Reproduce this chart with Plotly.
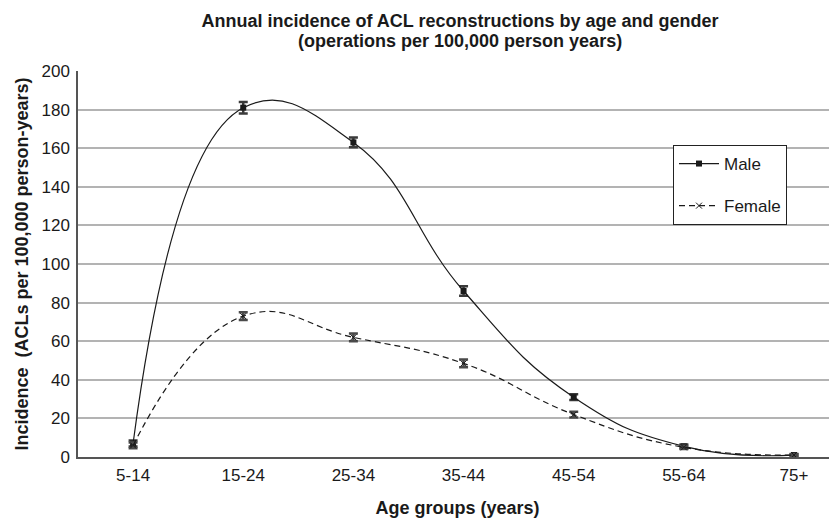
import plotly.graph_objects as go

age_groups = ["5-14", "15-24", "25-34", "35-44", "45-54", "55-64", "75+"]
male = [7, 181, 163, 86, 31, 5.5, 1]
male_err = [1.5, 3, 2.5, 2.5, 1.5, 1, 0.5]
female = [6, 73, 62, 48.5, 22, 5, 1]
female_err = [1.5, 2, 2, 2, 1.5, 0.8, 0.4]
y_ticks = [0, 20, 40, 60, 80, 100, 120, 140, 160, 180, 200]

FONT = "Liberation Sans, Arial, Helvetica, sans-serif"
INK = "#1a1a1a"

fig = go.Figure()
fig.add_trace(go.Scatter(
    x=age_groups, y=male, name="Male", mode="lines+markers",
    line=dict(color=INK, width=1.2, shape="spline", smoothing=1.3),
    marker=dict(symbol="square", size=6, color=INK),
    error_y=dict(type="data", array=male_err, visible=True, color="#3a3a3a", thickness=2.5, width=4.5),
    legendgroup="m",
))
fig.add_trace(go.Scatter(
    x=age_groups, y=female, name="Female", mode="lines+markers",
    line=dict(color=INK, width=1.2, dash="6px,4px", shape="spline", smoothing=1.3),
    marker=dict(symbol="x-thin", size=6, color=INK, line=dict(width=1, color=INK)),
    error_y=dict(type="data", array=female_err, visible=True, color="#4a4a4a", thickness=2.5, width=4.5),
    legendgroup="f",
))

# plot area in figure pixels: x 70..829, y 63..449
PL, PT, PW, PH = 70, 63, 759, 386

fig.update_layout(
    width=837, height=519,
    margin=dict(l=PL, r=8, t=PT, b=70, autoexpand=False),
    paper_bgcolor="white", plot_bgcolor="white",
    font=dict(family=FONT, size=17, color=INK),
    title=dict(
        text="<b>Annual incidence of ACL reconstructions by age and gender</b>",
        x=452 / 837, xanchor="center", xref="container",
        y=1 - 13 / 519, yanchor="middle", yref="container",
        font=dict(family=FONT, size=18, color=INK),
    ),
    annotations=[dict(
        text="<b>(operations per 100,000 person years)</b>",
        x=(452 - PL) / PW, xanchor="center", xref="paper",
        y=1 + (PT - 33) / PH, yanchor="middle", yref="paper",
        showarrow=False, font=dict(family=FONT, size=18, color=INK),
    )],
    showlegend=True,
    legend=dict(
        x=(665 - PL) / PW, xanchor="left", y=1 - (137 - PT) / PH, yanchor="top",
        bgcolor="white", bordercolor="#222", borderwidth=1,
        font=dict(family=FONT, size=17, color=INK),
        tracegroupgap=17, traceorder="grouped", itemwidth=40,
    ),
)

fig.update_xaxes(
    type="category", categoryorder="array", categoryarray=age_groups,
    range=[-0.5, 6.39], automargin=False,
    showline=True, linecolor="#555", linewidth=1.5,
    showgrid=False, ticks="", tickfont=dict(size=17), ticklabelstandoff=2,
    title=dict(text="<b>Age groups (years)</b>", standoff=17, font=dict(size=18)),
)
fig.update_yaxes(
    range=[0, 200], tickvals=y_ticks, automargin=False,
    showline=True, linecolor="#555", linewidth=1.5,
    showgrid=True, gridcolor="#b3b3b3", gridwidth=1.5,
    ticks="", tickfont=dict(size=17), zeroline=False, ticklabelstandoff=3,
    title=dict(text="<b>Incidence  (ACLs per 100,000 person-years)</b>", standoff=8, font=dict(size=18)),
)

fig.write_html("out.html")
